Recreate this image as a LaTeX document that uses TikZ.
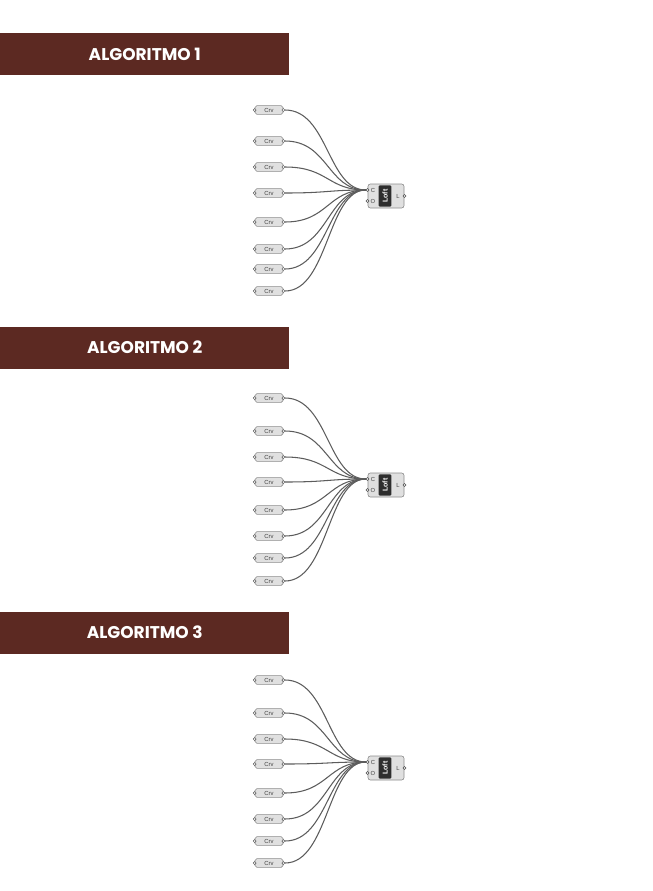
\documentclass[tikz,border=0pt]{standalone}
\usepackage{fontspec}
\usepackage{tikz}
\usetikzlibrary{positioning,calc}
\newfontfamily\bannerfont{Poppins}
\newfontfamily\ghfont{Liberation Sans}
\definecolor{bannerc}{HTML}{5C2922}
\definecolor{wirec}{gray}{0.36}
\definecolor{compfill}{gray}{0.88}
\definecolor{compline}{gray}{0.55}
\definecolor{corec}{gray}{0.18}
\tikzset{
  banner/.style   = {fill=bannerc, text=white, anchor=west, inner sep=0pt,
                     minimum width=8.67cm, minimum height=1.26cm,
                     font=\bannerfont\bfseries\fontsize{14.5}{16}\selectfont},
  crv/.style      = {draw=compline, fill=compfill, rounded corners=1.5pt,
                     line width=0.5pt, minimum width=0.84cm, minimum height=0.26cm,
                     inner sep=0pt, font=\ghfont\fontsize{5}{5}\selectfont,
                     text=black!75},
  nub/.style      = {circle, draw=black!70, fill=white, line width=0.35pt,
                     minimum size=0.09cm, inner sep=0pt},
  comp/.style     = {draw=compline, fill=compfill, rounded corners=2pt,
                     line width=0.5pt, minimum width=1.08cm, minimum height=0.72cm,
                     inner sep=0pt},
  compcore/.style = {fill=corec, rounded corners=1pt, rotate=90, text=white,
                     minimum width=0.64cm, minimum height=0.38cm, inner sep=0pt,
                     font=\ghfont\bfseries\fontsize{6}{6}\selectfont},
  plab/.style     = {font=\ghfont\fontsize{5}{5}\selectfont, text=black!75,
                     inner sep=0pt},
  wire/.style     = {draw=wirec, line width=0.9pt},
}
\newcommand{\algoblock}[5]{%            % #1 = id, #2 = banner y, #3 = crv y list, #4 = C input y, #5 = title
  \node[banner] (ban#1) at (0,#2) {#5};
  \node[comp] (loft#1) at ({386},{#4+6}) {};
  \node[compcore] (core#1) at ({385},{#4+6}) {Loft};
  \node[plab] (lc#1) at ({373},{#4}) {C};
  \node[plab] (lo#1) at ({373},{#4+11}) {O};
  \node[plab] (ll#1) at ({398},{#4+6}) {L};
  \node[nub] (cin#1) at ({367.5},{#4}) {};
  \node[nub] (oin#1) at ({367.5},{#4+11}) {};
  \node[nub] (lout#1) at ({404.5},{#4+6}) {};
  \foreach \y [count=\i] in {#3}{
    \node[crv] (crv#1-\i) at (269,\y) {Crv};
    \node[nub] (gin#1-\i) at (crv#1-\i.west) {};
    \node[nub] (gout#1-\i) at (crv#1-\i.east) {};
    \draw[wire] (gout#1-\i) .. controls +(45,0) and +(-40,0) .. (cin#1);
  }
}

\begin{document}
\begin{tikzpicture}[x=0.03cm,y=-0.03cm]
  \useasboundingbox (0,0) rectangle (653,891);
  \algoblock{a}{54}{110,141,167,193,222,249,269,291}{190}{ALGORITMO 1}
  \algoblock{b}{347.5}{398,431,457,482,510,536,558,581}{479}{ALGORITMO 2}
  \algoblock{c}{632.5}{680,713,739,764,793,819,841,863}{762}{ALGORITMO 3}
\end{tikzpicture}
\end{document}
